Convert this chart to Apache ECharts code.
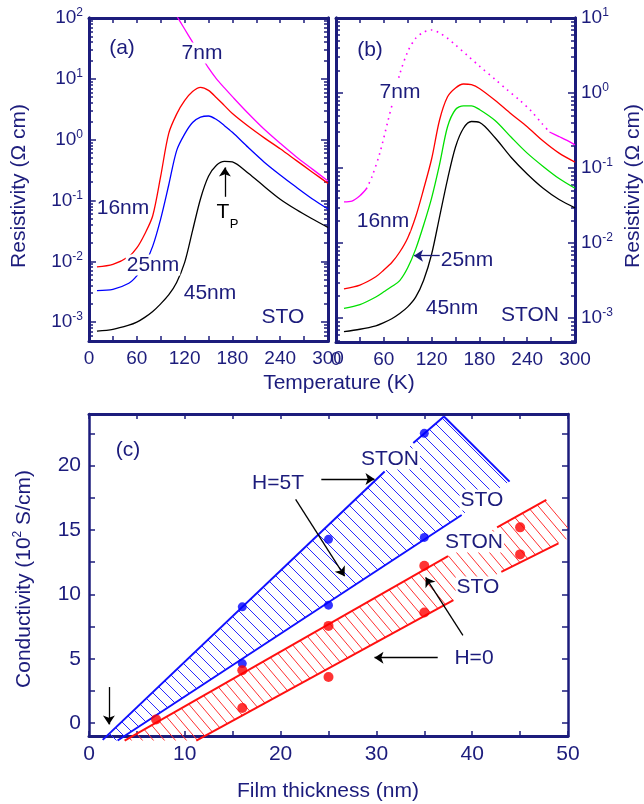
<!DOCTYPE html>
<html>
<head>
<meta charset="utf-8">
<title>Resistivity and conductivity of films</title>
<script src="https://cdn.jsdelivr.net/npm/echarts@6/dist/echarts.min.js"></script>
<style>
  html, body { margin: 0; padding: 0; background: #fff; }
  #main { width: 644px; height: 804px; }
</style>
</head>
<body>
<div id="main"></div>
<script>
// ---------- panel (a): films on STO, resistivity (ohm cm) vs T (K) ----------
var tempA = [10, 30, 50, 60, 70, 80, 90, 100, 110, 120, 130, 140, 150, 160, 170, 180, 200, 220, 240, 260, 280, 300];
var rhoA16 = [0.0081, 0.0089, 0.012, 0.0166, 0.0282, 0.0562, 0.251, 1.26, 2.63, 4.37, 6.17, 7.24, 6.46, 4.90, 3.63, 2.69, 1.66, 1.07, 0.708, 0.457, 0.295, 0.191];
var rhoA25 = [0.00331, 0.00347, 0.00437, 0.00575, 0.0089, 0.0178, 0.050, 0.178, 0.661, 1.23, 1.91, 2.34, 2.45, 2.14, 1.70, 1.32, 0.741, 0.427, 0.263, 0.166, 0.107, 0.0724];
var rhoA45 = [0.00071, 0.00076, 0.00089, 0.0010, 0.0012, 0.0015, 0.0020, 0.0028, 0.0045, 0.0095, 0.032, 0.107, 0.25, 0.38, 0.44, 0.43, 0.28, 0.17, 0.105, 0.071, 0.050, 0.036];
var tempA7 = [108, 120, 130, 140, 150, 160, 170, 180, 200, 220, 240, 260, 280, 300];
var rhoA7 = [120, 66, 40, 24.5, 15.1, 10.0, 7.1, 5.1, 2.69, 1.48, 0.87, 0.525, 0.331, 0.209];

// ---------- panel (b): films on STON ----------
var tempB = [10, 30, 50, 60, 70, 80, 90, 100, 110, 120, 130, 140, 150, 160, 170, 180, 200, 220, 240, 260, 280, 300];
var rhoB16 = [0.00245, 0.00275, 0.00355, 0.00437, 0.0055, 0.0076, 0.0117, 0.0224, 0.0525, 0.132, 0.437, 0.891, 1.17, 1.32, 1.29, 1.15, 0.794, 0.525, 0.355, 0.229, 0.158, 0.120];
var rhoB25 = [0.00135, 0.00151, 0.00191, 0.00224, 0.00263, 0.00316, 0.00468, 0.0083, 0.0174, 0.0398, 0.112, 0.355, 0.603, 0.676, 0.676, 0.603, 0.427, 0.257, 0.158, 0.105, 0.0724, 0.0537];
var rhoB45 = [0.00066, 0.00071, 0.00079, 0.00087, 0.00098, 0.00115, 0.00141, 0.0019, 0.0032, 0.0071, 0.0224, 0.0708, 0.191, 0.339, 0.417, 0.407, 0.251, 0.138, 0.0832, 0.0537, 0.0380, 0.0295];
// 7nm on STON: solid start, dotted middle, solid end
var tempB7a = [10, 20, 30, 38];
var rhoB7a = [0.0355, 0.0363, 0.0427, 0.0525];
var tempB7b = [38, 45, 55, 65, 72, 80, 90, 100, 110, 120, 130, 140, 150, 165, 180, 200, 215, 230, 245, 258, 268];
var rhoB7b = [0.0525, 0.0759, 0.158, 0.417, 0.813, 1.78, 3.55, 5.37, 6.46, 6.92, 6.31, 5.37, 4.37, 3.16, 2.29, 1.51, 1.10, 0.813, 0.575, 0.398, 0.302];
var tempB7c = [268, 280, 290, 300];
var rhoB7c = [0.302, 0.263, 0.234, 0.204];

// ---------- panel (c): conductivity (10^2 S/cm) vs film thickness (nm) ----------
var dots5T = [[16, 9.03], [16, 4.62], [25, 14.27], [25, 9.16], [35, 22.5], [35, 14.42]];
var dots0T = [[7, 0.29], [16, 4.10], [16, 1.17], [25, 7.55], [25, 3.58], [35, 12.22], [35, 8.59], [45, 15.2], [45, 13.1]];
// shaded bands (outline in data units)
var band5T = [[1.43, -1.3], [30.86, 19.53], [33.85, 21.74], [37.05, 23.81], [43.9, 18.75], [38.9, 16.16], [2.99, -1.35]];
var band0T = [[3.72, -1.35], [37.48, 12.97], [42.6, 15.2], [47.74, 17.33], [50, 15.6], [50, 14.33], [43.04, 11.75], [38.04, 9.55], [11.2, -1.35]];
var edges5T = [
  [[1.43, -1.3], [30.86, 19.53]],
  [[2.99, -1.35], [38.9, 16.16]],
  [[33.85, 21.74], [37.05, 23.81]],
  [[37.05, 23.81], [43.9, 18.75]]
];
var edges0T = [
  [[3.72, -1.35], [37.48, 12.97]],
  [[11.2, -1.35], [38.04, 9.55]],
  [[42.6, 15.2], [47.74, 17.33]],
  [[43.04, 11.75], [49.0, 13.96]]
];
var arrowsC = [
  [[2.08, 2.8], [2.08, -0.1]],
  [[24.25, 18.95], [29.8, 18.95]],
  [[21.57, 17.37], [26.68, 11.41]],
  [[36.4, 5.08], [29.8, 5.08]],
  [[39.03, 6.82], [35.14, 11.31]]
];

// ticks and labels
var tempTicks = [0, 30, 60, 90, 120, 150, 180, 210, 240, 270, 300];
var tempLabels = [0, 60, 120, 180, 240, 300];
var decadesA = [0.001, 0.01, 0.1, 1, 10, 100];
var decadesB = [0.001, 0.01, 0.1, 1, 10];
var thickTicks = [0, 5, 10, 15, 20, 25, 30, 35, 40, 45, 50];
var thickLabels = [0, 10, 20, 30, 40, 50];
var condTicks = [0, 2.5, 5, 7.5, 10, 12.5, 15, 17.5, 20, 22.5];
var condLabels = [0, 5, 10, 15, 20];

var NAVY = '#1c1c7c';
var FONT = "'Liberation Sans', Arial, Helvetica, sans-serif";

function minorLog(decades) {
  var out = [];
  decades.forEach(function (d) {
    for (var k = 2; k <= 9; k++) out.push(+(k * d / 10).toPrecision(3));
  });
  out.push(+(2 * decades[decades.length - 1]).toPrecision(3));
  return out;
}

function pairs(xs, ys) {
  return xs.map(function (x, i) { return [x, ys[i]]; });
}

function expFmt(v) {
  var e = Math.round(Math.log(v) / Math.LN10);
  return '{b|10}{s|' + e + '}';
}

var expRich = {
  b: { fontSize: 19, fontFamily: FONT, color: NAVY, lineHeight: 22 },
  s: { fontSize: 12, fontFamily: FONT, color: NAVY, lineHeight: 13, verticalAlign: 'top' }
};

function xAx(grid, pos, min, max, ticks, labels, size) {
  return {
    type: 'value', gridIndex: grid, position: pos, min: min, max: max,
    axisLine: { show: true, onZero: false, lineStyle: { color: NAVY, width: 3 } },
    axisTick: { show: true, inside: true, length: 5, customValues: ticks, lineStyle: { color: NAVY, width: 1.5 } },
    axisLabel: labels ? { show: true, customValues: labels, color: NAVY, fontSize: size, fontFamily: FONT, margin: 8 } : { show: false },
    splitLine: { show: false }
  };
}

function yLog(grid, pos, min, max, ticks, len, labels) {
  return {
    type: 'log', logBase: 10, gridIndex: grid, position: pos, min: min, max: max,
    axisLine: { show: true, onZero: false, lineStyle: { color: NAVY, width: 3 } },
    axisTick: { show: true, inside: true, length: len, customValues: ticks, lineStyle: { color: NAVY, width: 1.5 } },
    axisLabel: labels ? { show: true, customValues: labels, formatter: expFmt, rich: expRich, margin: 6 } : { show: false },
    splitLine: { show: false }
  };
}

function yLin(grid, pos, labels) {
  return {
    type: 'value', gridIndex: grid, position: pos, min: -1, max: 24,
    axisLine: { show: true, onZero: false, lineStyle: { color: NAVY, width: 2.5 } },
    axisTick: { show: true, inside: true, length: 6, customValues: condTicks, lineStyle: { color: NAVY, width: 1.5 } },
    axisLabel: labels ? { show: true, customValues: labels, color: NAVY, fontSize: 21, fontFamily: FONT, margin: 8 } : { show: false },
    splitLine: { show: false }
  };
}

function hatch(color, w, h) {
  var c = document.createElement('canvas');
  c.width = w; c.height = h;
  var ctx = c.getContext('2d');
  ctx.strokeStyle = color;
  ctx.lineWidth = 1;
  [-w, 0, w].forEach(function (o) {
    ctx.beginPath();
    ctx.moveTo(o, 0);
    ctx.lineTo(o + w, h);
    ctx.stroke();
  });
  return { image: c, repeat: 'repeat' };
}

function curve(xi, yi, xs, ys, color, dashed) {
  return {
    type: 'line', xAxisIndex: xi, yAxisIndex: yi, data: pairs(xs, ys),
    smooth: 0.3, symbol: 'none', silent: true, z: 2,
    lineStyle: { color: color, width: dashed ? 1.6 : 1.3, type: dashed ? [1.6, 4.5] : 'solid' }
  };
}

function band(poly, pattern) {
  return {
    type: 'custom', xAxisIndex: 4, yAxisIndex: 8, silent: true, z: 1,
    data: [[0, 0]],
    renderItem: function (params, api) {
      var pts = poly.map(function (p) { return api.coord(p); });
      return { type: 'polygon', shape: { points: pts }, style: { fill: pattern, stroke: null } };
    }
  };
}

function edge(seg, color) {
  return {
    type: 'line', xAxisIndex: 4, yAxisIndex: 8, data: seg, clip: false,
    symbol: 'none', silent: true, z: 2, lineStyle: { color: color, width: 2 }
  };
}

function arrowLines(list) {
  return list.map(function (a) { return [{ coord: a[0] }, { coord: a[1] }]; });
}

function arrowMark(list, color) {
  return {
    silent: true, symbol: ['none', 'arrow'], symbolSize: 9, animation: false,
    label: { show: false }, emphasis: { disabled: true },
    lineStyle: { color: color, width: 1.3, type: 'solid' },
    data: arrowLines(list)
  };
}

function txt(s, x, y, opt) {
  opt = opt || {};
  return {
    type: 'text', x: x, y: y, z: 100, rotation: opt.rot || 0, silent: true,
    style: {
      text: s, fill: opt.color || NAVY, fontSize: opt.size || 21, fontFamily: FONT,
      align: 'center', verticalAlign: 'middle',
      backgroundColor: opt.bg === false ? null : '#fff', padding: opt.bg === false ? 0 : [0, 1],
      rich: opt.rich
    }
  };
}

var series = [];
// (a)
var blackA = curve(0, 0, tempA, rhoA45, '#000000');
blackA.markLine = arrowMark([[[170.6, 0.115], [170.6, 0.35]]], '#000');
series.push(curve(0, 0, tempA7, rhoA7, '#ff00ff'));
series.push(curve(0, 0, tempA, rhoA16, '#ff0000'));
series.push(curve(0, 0, tempA, rhoA25, '#0000ff'));
series.push(blackA);
// (b)
var greenB = curve(2, 6, tempB, rhoB25, '#00e000');
greenB.markLine = arrowMark([[[130.5, 0.0068], [97.9, 0.0068]]], NAVY);
series.push(curve(2, 6, tempB7a, rhoB7a, '#ff00ff'));
series.push(curve(2, 6, tempB7b, rhoB7b, '#ff00ff', true));
series.push(curve(2, 6, tempB7c, rhoB7c, '#ff00ff'));
series.push(curve(2, 6, tempB, rhoB16, '#ff0000'));
series.push(greenB);
series.push(curve(2, 6, tempB, rhoB45, '#000000'));
// (c)
series.push(band(band5T, hatch('#2a2aff', 12, 12)));
series.push(band(band0T, hatch('#ff3030', 11, 13)));
edges5T.forEach(function (s) { series.push(edge(s, '#1010ff')); });
edges0T.forEach(function (s) { series.push(edge(s, '#ff1010')); });
series.push({
  type: 'scatter', xAxisIndex: 4, yAxisIndex: 8, data: dots5T, symbolSize: 9, silent: true, z: 3,
  itemStyle: { color: '#0000ff' }
});
series.push({
  type: 'scatter', xAxisIndex: 4, yAxisIndex: 8, data: dots0T, symbolSize: 10, silent: true, z: 3,
  itemStyle: { color: '#ff0000' },
  markLine: arrowMark(arrowsC, '#000')
});

var option = {
  animation: false,
  backgroundColor: '#fff',
  grid: [
    { left: 89, top: 18, width: 239, height: 323, outerBoundsMode: 'none' },
    { left: 336, top: 18, width: 239, height: 324, outerBoundsMode: 'none' },
    { left: 89, top: 414, width: 479, height: 322, outerBoundsMode: 'none' }
  ],
  xAxis: [
    xAx(0, 'bottom', 0, 300, tempTicks, tempLabels, 19),
    xAx(0, 'top', 0, 300, tempTicks, null),
    xAx(1, 'bottom', 0, 300, tempTicks, tempLabels, 19),
    xAx(1, 'top', 0, 300, tempTicks, null),
    xAx(2, 'bottom', 0, 50, thickTicks, thickLabels, 21),
    xAx(2, 'top', 0, 50, thickTicks, null)
  ],
  yAxis: [
    yLog(0, 'left', 0.00049, 100, decadesA, 7, decadesA),
    yLog(0, 'left', 0.00049, 100, minorLog(decadesA), 4, null),
    yLog(0, 'right', 0.00049, 100, decadesA, 7, null),
    yLog(0, 'right', 0.00049, 100, minorLog(decadesA), 4, null),
    yLog(1, 'left', 0.00048, 10, decadesB, 7, null),
    yLog(1, 'left', 0.00048, 10, minorLog(decadesB), 4, null),
    yLog(1, 'right', 0.00048, 10, decadesB, 7, decadesB),
    yLog(1, 'right', 0.00048, 10, minorLog(decadesB), 4, null),
    yLin(2, 'left', condLabels),
    yLin(2, 'right', null)
  ],
  series: series,
  graphic: [
    // axis titles
    txt('Resistivity (\u03A9 cm)', 19, 186, { rot: Math.PI / 2, bg: false }),
    txt('Resistivity (\u03A9 cm)', 633, 186, { rot: Math.PI / 2, bg: false }),
    txt('Temperature (K)', 339, 383, { bg: false }),
    txt('{a|Conductivity (10}{s|2}{a| S/cm)}', 24, 579, {
      rot: Math.PI / 2, bg: false,
      rich: {
        a: { fontSize: 21, fontFamily: FONT, fill: NAVY, lineHeight: 24 },
        s: { fontSize: 12, fontFamily: FONT, fill: NAVY, lineHeight: 12, verticalAlign: 'top' }
      }
    }),
    txt('Film thickness (nm)', 328, 791, { bg: false }),
    // (a)
    txt('(a)', 122, 48),
    txt('7nm', 202, 53),
    txt('16nm', 123, 208),
    txt('25nm', 153, 265),
    txt('45nm', 210, 293),
    txt('STO', 283, 317),
    txt('T', 223, 212, { color: '#000', bg: false }),
    txt('P', 234, 224, { color: '#000', bg: false, size: 13 }),
    // (b)
    txt('(b)', 370, 50),
    txt('7nm', 400, 92),
    txt('16nm', 383, 221),
    txt('25nm', 467, 260),
    txt('45nm', 452, 308),
    txt('STON', 530, 315),
    // (c)
    txt('(c)', 128, 450),
    txt('STON', 390, 459),
    txt('H=5T', 278, 483),
    txt('STO', 482, 500),
    txt('STON', 474, 542),
    txt('STO', 478, 587),
    txt('H=0', 474, 658)
  ]
};

var chart = echarts.init(document.getElementById('main'));
chart.setOption(option);
</script>
</body>
</html>
